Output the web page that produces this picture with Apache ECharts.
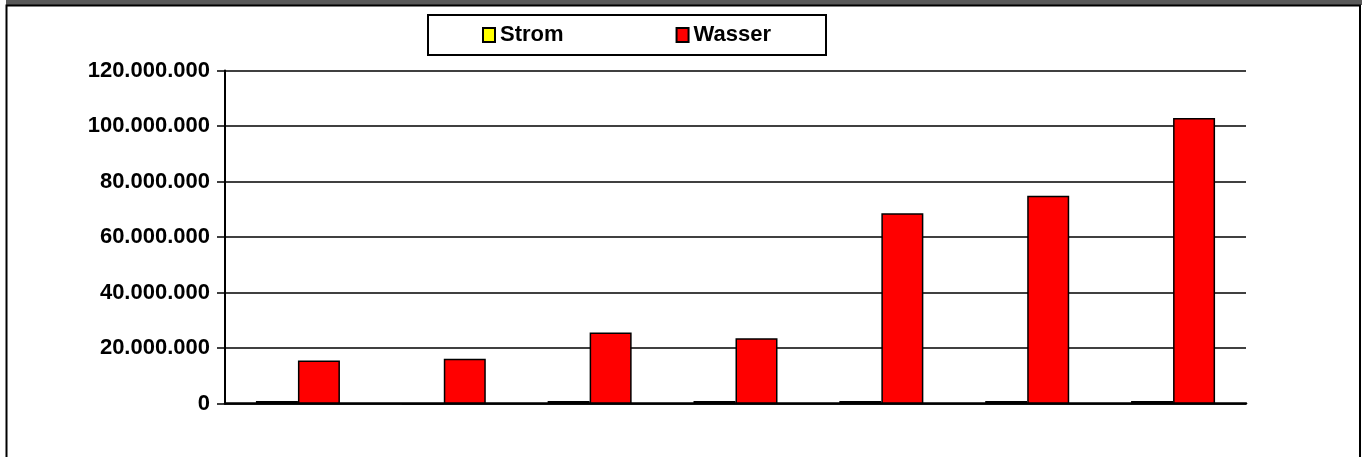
<!DOCTYPE html>
<html>
<head>
<meta charset="utf-8">
<script src="https://cdn.jsdelivr.net/npm/echarts@6/dist/echarts.min.js"></script>
<style>html,body{margin:0;padding:0;background:#fff}#c{width:1362px;height:457px}</style>
</head>
<body>
<div id="c"></div>
<script>
var categories = ['1', '2', '3', '4', '5', '6', '7'];
var strom = [1000000, 0, 1000000, 1000000, 1000000, 1000000, 1000000];
var wasser = [15600000, 16200000, 25600000, 23600000, 68600000, 74900000, 102900000];
var seriesNames = ['Strom', 'Wasser'];
var yTicks = [0, 20000000, 40000000, 60000000, 80000000, 100000000, 120000000];

var FONT = '"Liberation Sans", Arial, sans-serif';
function fmt(v) {
  return String(Math.round(v)).replace(/\B(?=(\d{3})+(?!\d))/g, '.');
}
var chart = echarts.init(document.getElementById('c'), null, {renderer: 'canvas'});
chart.setOption({
  animation: false,
  backgroundColor: '#ffffff',
  grid: {left: 225, right: 116, top: 70.5, bottom: 53.3, containLabel: false},
  legend: {
    left: 482, top: 24,
    itemGap: 112, itemWidth: 12, itemHeight: 14,
    icon: 'rect',
    padding: 0,
    textStyle: {fontFamily: FONT, fontWeight: 'bold', fontSize: 22, color: '#000', padding: [0, 0, 0, 0]},
    data: seriesNames
  },
  xAxis: {
    type: 'category', data: categories,
    axisLine: {lineStyle: {color: '#000', width: 2.5}},
    axisTick: {show: false},
    axisLabel: {show: false},
    splitLine: {show: false}
  },
  yAxis: {
    type: 'value', min: yTicks[0], max: yTicks[yTicks.length - 1], interval: 20000000,
    axisLine: {show: true, lineStyle: {color: '#000', width: 2}},
    axisTick: {show: true, length: 8, lineStyle: {color: '#000', width: 1.5}},
    axisLabel: {margin: 15, fontFamily: FONT, fontWeight: 'bold', fontSize: 22, color: '#000', formatter: fmt},
    splitLine: {show: true, lineStyle: {color: '#000', width: 1.5}}
  },
  series: [
    {name: seriesNames[0], type: 'bar', data: strom, barWidth: 42, barGap: '0%', z: 3,
     itemStyle: {color: '#ffff00', borderColor: '#000', borderWidth: 1.5}},
    {name: seriesNames[1], type: 'bar', data: wasser, barWidth: 42, barGap: '0%', z: 3,
     itemStyle: {color: '#ff0000', borderColor: '#000', borderWidth: 1.5}}
  ],
  graphic: [
    {type: 'rect', silent: true, z: -1, shape: {x: 6, y: 0, width: 1356, height: 5}, style: {fill: '#595959'}},
    {type: 'rect', silent: true, z: 10, shape: {x: 6.5, y: 5.5, width: 1353.5, height: 460}, style: {fill: null, stroke: '#000', lineWidth: 2}},
    {type: 'rect', silent: true, z: 10, shape: {x: 428, y: 15, width: 398, height: 40}, style: {fill: null, stroke: '#000', lineWidth: 2}}
  ]
});
</script>
</body>
</html>
